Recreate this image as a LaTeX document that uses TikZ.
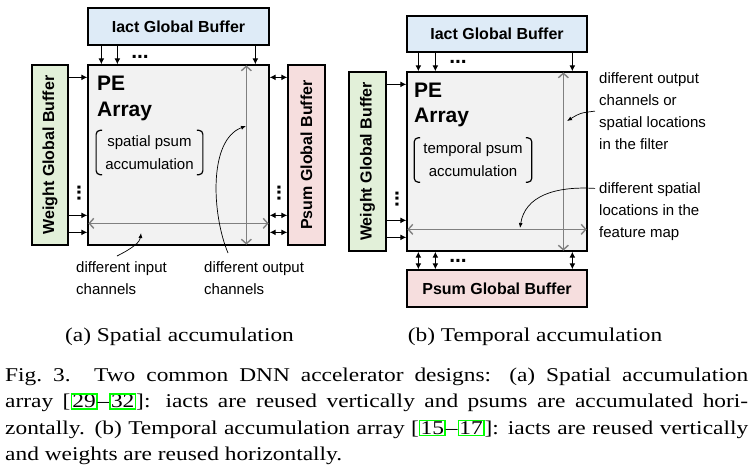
\documentclass[tikz,border=0pt]{standalone}
\usepackage{fontspec}
\newfontfamily\arial{Liberation Sans}
\newfontfamily\capfont[FakeStretch=1.2]{Liberation Serif}
\usetikzlibrary{positioning,arrows.meta}
\definecolor{iactblue}{RGB}{222,235,247}
\definecolor{wgtgreen}{RGB}{226,240,217}
\definecolor{psumpink}{RGB}{246,222,222}
\definecolor{pegray}{RGB}{242,242,242}
\definecolor{linkgreen}{RGB}{0,255,0}
\newcommand{\refbox}[1]{{\fboxsep=0.3pt\fboxrule=1.5pt\color{linkgreen}\fbox{\color{black}#1}}}

\begin{document}
\begin{tikzpicture}[x=1pt, y=-1pt,
	box/.style={draw, line width=1.3pt, inner sep=0pt},
	buftxt/.style={inner sep=0pt, font=\arial\fontsize{16}{19}\selectfont\bfseries},
	pelbl/.style={anchor=base west, inner sep=0pt, font=\arial\fontsize{21}{25}\selectfont\bfseries},
	acc/.style={inner xsep=9pt, inner ysep=5pt, align=center, font=\arial\fontsize{15}{23}\selectfont},
	brk/.style={line width=1.2pt, rounded corners=4pt},
	lbl/.style={anchor=north west, inner sep=0pt, align=left, font=\arial\fontsize{15}{22}\selectfont},
	dots/.style={inner sep=0pt, font=\arial\fontsize{21}{21}\selectfont\bfseries},
	arr/.style={-{Latex[length=6pt,width=6pt]}, line width=1.2pt},
	darr/.style={{Latex[length=6pt,width=6pt]}-{Latex[length=6pt,width=6pt]}, line width=1.2pt},
	garr/.style={{Straight Barb[length=4.5pt,width=10pt]}-{Straight Barb[length=4.5pt,width=10pt]}, line width=1.4pt, draw=gray, shorten <=1pt, shorten >=1pt},
	note/.style={-{Latex[length=5pt,width=4pt]}, line width=0.7pt},
	captxt/.style={inner sep=0pt, font=\capfont\fontsize{19.5}{26.5}\selectfont}]
	\useasboundingbox (0,0) rectangle (754,474);

	% (a) spatial accumulation
	\node[box, fill=pegray, minimum width=181pt, minimum height=180pt] (peA) at (178.5,155) {};
	\node[box, fill=iactblue, minimum width=181pt, minimum height=37pt, buftxt] (iactA) at (178.5,26.5) {Iact Global Buffer};
	\node[box, fill=wgtgreen, minimum width=36pt, minimum height=180pt] (wA) at (50,155) {};
	\node[buftxt, rotate=90] (wTxtA) at (wA) {Weight Global Buffer};
	\node[box, fill=psumpink, minimum width=37pt, minimum height=180pt] (psA) at (306.5,155) {};
	\node[buftxt, rotate=90] (psTxtA) at (psA) {Psum Global Buffer};

	\foreach \d in {14,30,168}
		\draw[arr] ([xshift=\d pt]iactA.south west) -- ([xshift=\d pt]peA.north west);
	\foreach \d in {13,151,168} {
		\draw[arr] ([yshift=-\d pt]wA.north east) -- ([yshift=-\d pt]peA.north west);
		\draw[darr] ([yshift=-\d pt]peA.north east) -- ([yshift=-\d pt]psA.north west);
	}
	\node[dots] (dtA) at (140,57) {...};
	\node[dots, rotate=90] (dwA) at (79,193) {...};
	\node[dots, rotate=90] (dpA) at (279,193) {...};

	\draw[garr] ([xshift=159pt]peA.north west) -- ([xshift=159pt]peA.south west);
	\draw[garr] ([yshift=-159pt]peA.north west) -- ([yshift=-159pt]peA.north east);

	\node[pelbl] (peTxtA) at (97,90) {PE};
	\node[pelbl] (arTxtA) at (97,116) {Array};
	\node[acc] (accA) at (149.5,152.5) {spatial psum\\accumulation};
	\draw[brk] ([xshift=6pt]accA.north west) -- (accA.north west) -- (accA.south west) -- ([xshift=6pt]accA.south west);
	\draw[brk] ([xshift=-6pt]accA.north east) -- (accA.north east) -- (accA.south east) -- ([xshift=-6pt]accA.south east);

	\node[lbl] (inLblA) at (76,261) {different input\\channels};
	\node[lbl] (outLblA) at (204,261) {different output\\channels};
	\draw[note] ([shift={(41pt,5pt)}]inLblA.north west) .. controls (133,248) and (140,242) .. (141,233);
	\draw[note] ([shift={(24pt,8pt)}]outLblA.north west) .. controls (212,215) and (208,140) .. (246,126);

	% (b) temporal accumulation
	\node[box, fill=pegray, minimum width=180pt, minimum height=179pt] (peB) at (497,161.5) {};
	\node[box, fill=iactblue, minimum width=180pt, minimum height=36pt, buftxt] (iactB) at (497,34) {Iact Global Buffer};
	\node[box, fill=wgtgreen, minimum width=37pt, minimum height=179pt] (wB) at (367.5,161.5) {};
	\node[buftxt, rotate=90] (wTxtB) at (wB) {Weight Global Buffer};
	\node[box, fill=psumpink, minimum width=180pt, minimum height=37pt, buftxt] (psB) at (497,288.5) {Psum Global Buffer};

	\foreach \d in {12,29,166} {
		\draw[arr] ([xshift=\d pt]iactB.south west) -- ([xshift=\d pt]peB.north west);
		\draw[darr] ([xshift=\d pt]peB.south west) -- ([xshift=\d pt]psB.north west);
	}
	\foreach \d in {13,149,166}
		\draw[arr] ([yshift=-\d pt]wB.north east) -- ([yshift=-\d pt]peB.north west);
	\node[dots] (dtB) at (458,62) {...};
	\node[dots] (dbB) at (458,261) {...};
	\node[dots, rotate=90] (dwB) at (397,199) {...};

	\draw[garr] ([xshift=157pt]peB.north west) -- ([xshift=157pt]peB.south west);
	\draw[garr] ([yshift=-158pt]peB.north west) -- ([yshift=-158pt]peB.north east);

	\node[pelbl] (peTxtB) at (414,97) {PE};
	\node[pelbl] (arTxtB) at (414,122) {Array};
	\node[acc] (accB) at (473,160) {temporal psum\\accumulation};
	\draw[brk] ([xshift=6pt]accB.north west) -- (accB.north west) -- (accB.south west) -- ([xshift=6pt]accB.south west);
	\draw[brk] ([xshift=-6pt]accB.north east) -- (accB.north east) -- (accB.south east) -- ([xshift=-6pt]accB.south east);

	\node[lbl] (fltLbl) at (599,72.4) {different output\\channels or\\spatial locations\\in the filter};
	\node[lbl] (fmLbl) at (599,182.4) {different spatial\\locations in the\\feature map};
	\draw[note] ([xshift=-4pt]fltLbl.west) .. controls (580,113) .. (567,121);
	\draw[note] ([shift={(-4pt,-6pt)}]fmLbl.north west) .. controls (555,186) and (525,196) .. (520,228);

	% captions
	\node[captxt, anchor=base] (capA) at (179.5,341) {(a) Spatial accumulation};
	\node[captxt, anchor=base] (capB) at (535,341) {(b) Temporal accumulation};
	\node[captxt, anchor=north west, text width=743pt, align=justify] (figCap) at (5,367.5) {Fig.~3.\hspace{1.2em}Two common DNN accelerator designs: (a) Spatial accumulation\linebreak array [\refbox{29}\textendash\refbox{32}]: iacts are reused vertically and psums are accumulated hori-\linebreak zontally. (b) Temporal accumulation array [\refbox{15}\textendash\refbox{17}]: iacts are reused vertically\linebreak and weights are reused horizontally.};
\end{tikzpicture}
\end{document}
